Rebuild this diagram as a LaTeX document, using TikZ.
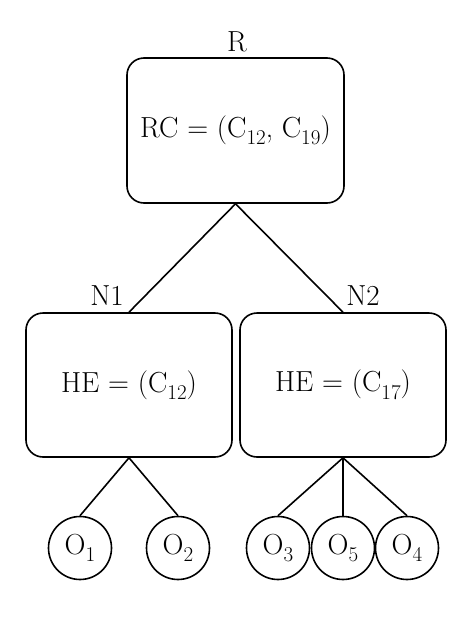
\documentclass[tikz,border=0pt]{standalone}
\usepackage{fontspec}
\usepackage{tikz}
\newcommand{\subidx}[1]{\raisebox{-0.26em}{\fontsize{21}{25}\selectfont #1}}

\begin{document}
\begin{tikzpicture}[x=1pt,y=-1pt,
    every node/.style={font=\fontsize{29}{34}\selectfont},
    box/.style={draw,line width=1.6pt,rounded corners=17pt,minimum width=206pt,minimum height=144pt,inner sep=0pt},
    leaf/.style={draw,circle,line width=1.6pt,minimum size=63pt,inner sep=0pt}]
    \useasboundingbox (0,0) rectangle (474,627);

    \node[box,minimum width=217pt,minimum height=145pt] (R) at (235.5,130.5) {RC = (C\subidx{12}, C\subidx{19})};

    \node[box] (N1) at (129,385) {HE = (C\subidx{12})};
    \node[box] (N2) at (343,385) {HE = (C\subidx{17})};

    \node[leaf] (O1) at (80,548) {O\subidx{1}};
    \node[leaf] (O2) at (178,548) {O\subidx{2}};
    \node[leaf] (O3) at (278,548) {O\subidx{3}};
    \node[leaf] (O5) at (343,548) {O\subidx{5}};
    \node[leaf] (O4) at (407,548) {O\subidx{4}};

    \node (Rlab) at (237,42) {R};
    \node (N1lab) at (107,296) {N1};
    \node (N2lab) at (363,296) {N2};

    \path[line width=1.6pt]
    (R.south) edge (N1.north)
    (R.south) edge (N2.north)
    (N1.south) edge (O1.north)
    (N1.south) edge (O2.north)
    (N2.south) edge (O3.north)
    (N2.south) edge (O5.north)
    (N2.south) edge (O4.north);
\end{tikzpicture}
\end{document}
